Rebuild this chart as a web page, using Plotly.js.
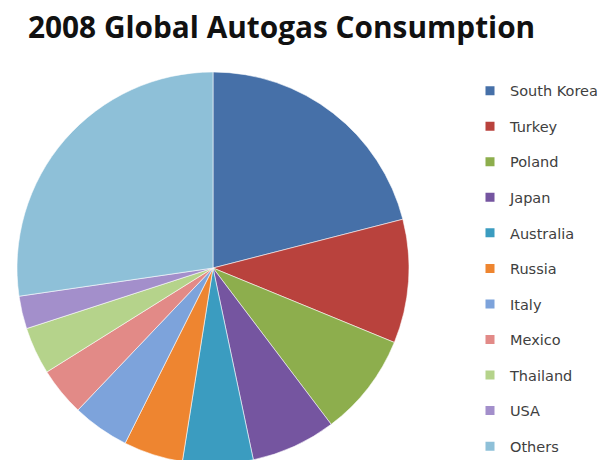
<!DOCTYPE html>
<html>
<head>
<meta charset="utf-8">
<script src="https://cdn.plot.ly/plotly-3.0.1.min.js"></script>
<style>html,body{margin:0;padding:0;overflow:hidden;background:#fff;}#chart{width:600px;height:464px;}</style>
</head>
<body>
<div id="chart"></div>
<script>
// Data (share of 2008 global autogas consumption, %)
const countries = ["South Korea","Turkey","Poland","Japan","Australia","Russia","Italy","Mexico","Thailand","USA","Others"];
const shares = [21.0, 10.2, 8.5, 7.0, 5.8, 4.9, 4.7, 4.0, 3.9, 2.7, 27.3];
const sliceColors = ["#4670A8","#B9423D","#8DAE4D","#7555A0","#3B9CC0","#EE8530","#7DA3DB","#E28A87","#B5D38B","#A38FCB","#8EC0D8"];

const traces = [{
  type: "pie",
  labels: countries,
  values: shares,
  sort: false,
  direction: "clockwise",
  rotation: 0,
  textinfo: "none",
  hoverinfo: "label+percent",
  marker: {colors: sliceColors, line: {color: "rgba(255,255,255,0.7)", width: 0.8}},
  domain: {x: [17/600, 409/600], y: [0, 1]},
  showlegend: false
}];
// legend entries, one group per country so the spacing can be set
countries.forEach((c, i) => {
  traces.push({
    type: "scatter", mode: "markers", x: [null], y: [null],
    name: c, legendgroup: "g" + i,
    marker: {symbol: "square", size: 9, color: sliceColors[i]},
    showlegend: true, hoverinfo: "skip"
  });
});

const layout = {
  width: 600, height: 464,
  margin: {l: 0, r: 0, t: 72, b: 0, autoexpand: false},
  paper_bgcolor: "#ffffff", plot_bgcolor: "#ffffff",
  title: {text: "2008 Global Autogas Consumption", x: 28/600, xanchor: "left", y: 1 - 38/464, yanchor: "bottom",
          font: {family: "Open Sans", size: 29.8, color: "#111", weight: "bold"}},
  xaxis: {visible: false}, yaxis: {visible: false},
  legend: {x: 470/600, xanchor: "left", y: 0.993, yanchor: "top", bgcolor: "rgba(0,0,0,0)",
           font: {family: "DejaVu Sans", size: 14.5, color: "#404040"}, tracegroupgap: 13.7, itemwidth: 30,
           maxheight: 460},
  showlegend: true
};
Plotly.newPlot("chart", traces, layout, {displayModeBar: false, staticPlot: true});
</script>
</body>
</html>
